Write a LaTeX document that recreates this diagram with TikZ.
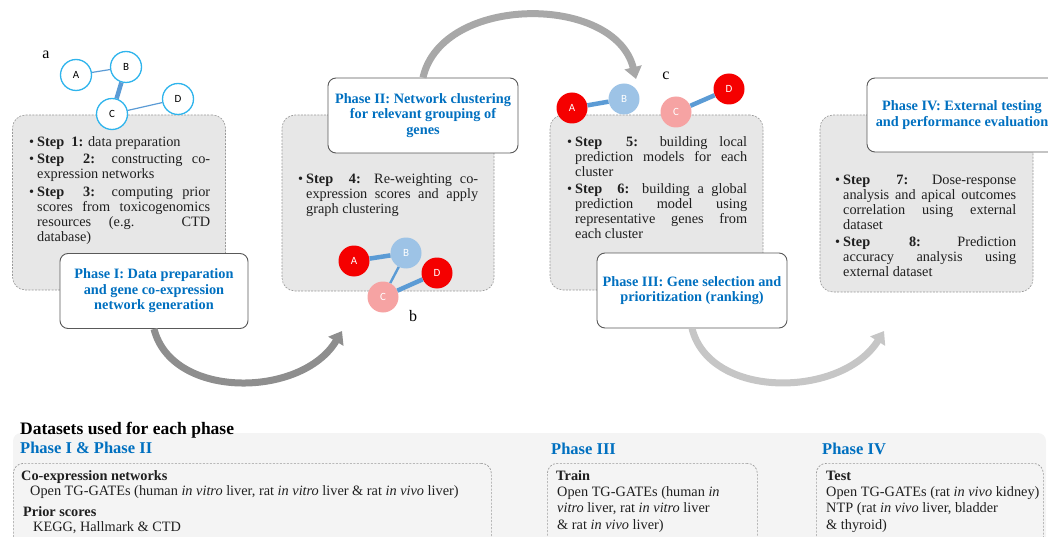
\documentclass[tikz,border=0pt]{standalone}
\usepackage{fontspec}
\setmainfont{Liberation Serif}
\newfontfamily\nodefont{Carlito}
\usetikzlibrary{arrows.meta,calc}
\definecolor{phaseblue}{HTML}{0070C0}
\definecolor{boxgray}{HTML}{E7E7E7}
\definecolor{dashgray}{HTML}{9A9A9A}
\definecolor{borderdark}{HTML}{595959}
\definecolor{cyanring}{HTML}{2FB4EC}
\definecolor{edgeblue}{HTML}{5B9BD5}
\definecolor{nodered}{HTML}{F50000}
\definecolor{nodeblue}{HTML}{9DC3E6}
\definecolor{nodepink}{HTML}{F6A3A3}
\definecolor{arrowdark}{HTML}{8E8E8E}
\definecolor{arrowmid}{HTML}{A8A8A8}
\definecolor{arrowlight}{HTML}{C6C6C6}
\definecolor{bottombg}{HTML}{F4F4F4}
\newcommand\stp[2]{\par\noindent\hangindent=8pt\hangafter=1\hbox to 8pt{\textbullet\hfil}\strut\textbf{Step\ \ #1:} #2\par}
\newcommand\isep{\vspace{2.5pt}}
\begin{document}
\begin{tikzpicture}[x=1pt,y=-1pt,
  graybox/.style={draw=dashgray, dash pattern=on 2pt off 1.3pt, line width=0.6pt, fill=boxgray, rounded corners=13pt, inner sep=0pt},
  titlebox/.style={draw=borderdark, fill=white, line width=0.9pt, rounded corners=8pt, minimum width=188pt, minimum height=75pt, inner sep=2pt, align=center, text=phaseblue, font={\fontsize{14.3}{15.5}\selectfont\bfseries}},
  steps/.style={anchor=north west, inner sep=0pt, align=justify, text=black!88, font={\fontsize{14.3}{15}\selectfont\tolerance=9999\hyphenpenalty=10000}},
  netbase/.style={circle, minimum size=31pt, inner sep=0pt, font={\nodefont\fontsize{11}{13}\selectfont}},
  netA/.style={netbase, draw=cyanring, line width=1.3pt, fill=white},
  netR/.style={netbase, fill=nodered, text=white},
  netB/.style={netbase, fill=nodeblue, text=white},
  netC/.style={netbase, fill=nodepink, text=white},
  edgethin/.style={draw=edgeblue, line width=1.2pt},
  edgemid/.style={draw=edgeblue, line width=2.4pt},
  edgethick/.style={draw=edgeblue, line width=4.5pt},
  flow/.style={line width=7pt, -{Triangle[length=12pt,width=17pt]}},
  lbl/.style={anchor=base west, inner sep=0pt, text=black!88, font={\fontsize{14.3}{15}\selectfont}},
  lblb/.style={lbl, font={\fontsize{14.3}{15}\selectfont\bfseries}},
  head/.style={anchor=base west, inner sep=0pt, text=phaseblue, font={\fontsize{16.5}{18}\selectfont\bfseries}},
  letter/.style={inner sep=0pt, font={\fontsize{16}{18}\selectfont}},
  dsbox/.style={draw=dashgray, dash pattern=on 2pt off 1.5pt, line width=0.7pt, rounded corners=10pt, anchor=north west, inner sep=0pt}
]
\useasboundingbox (0,0) rectangle (1048,537);

% gray step boxes
\node[graybox, minimum width=213pt, minimum height=175pt] (g1) at (119,202.5) {};
\node[graybox, minimum width=212pt, minimum height=176pt] (g2) at (388,203) {};
\node[graybox, minimum width=213pt, minimum height=175pt] (g3) at (656.5,202.5) {};
\node[graybox, minimum width=213pt, minimum height=177pt] (g4) at (926.5,203.5) {};

% step texts
\node[steps, text width=181pt] (s1) at (29,131.2) {%
\stp{1}{data preparation}\isep
\stp{2}{constructing co-\linebreak expression networks}\isep
\stp{3}{computing prior\linebreak scores from toxicogenomics\linebreak resources (e.g. CTD\linebreak database)}};
\node[steps, text width=180pt] (s2) at (298,168.2) {%
\stp{4}{Re-weighting co-\linebreak expression scores and apply\linebreak graph clustering}};
\node[steps, text width=180pt] (s3) at (567,131.2) {%
\stp{5}{building local\linebreak prediction models for each\linebreak cluster}\isep
\stp{6}{building a global\linebreak prediction model using\linebreak representative genes from\linebreak each cluster}};
\node[steps, text width=181pt] (s4) at (835,169.2) {%
\stp{7}{Dose-response\linebreak analysis and apical outcomes\linebreak correlation using external\linebreak dataset}\isep
\stp{8}{Prediction\linebreak accuracy analysis using\linebreak external dataset}};

% network a
\node[letter] (la) at (46,55) {a};
\node[netA] (aA) at (76,75) {A};
\node[netA] (aB) at (126,67) {B};
\node[netA] (aC) at (112,114) {C};
\node[netA] (aD) at (178,99) {D};
\draw[edgethin] (aA) -- (aB);
\draw[edgethick] (aB) -- (aC);
\draw[edgethin] (aC) -- (aD);

% network b
\node[netR] (bA) at (354,261) {A};
\node[netB] (bB) at (406,253) {B};
\node[netR] (bD) at (437,273) {D};
\node[netC] (bC) at (383,297) {C};
\draw[edgethick] (bA) -- (bB);
\draw[edgemid] (bB) -- (bC);
\draw[edgethick] (bC) -- (bD);
\node[letter] (lb) at (413,316) {b};

% network c
\node[letter] (lc) at (666,76) {c};
\node[netR] (cA) at (572,108) {A};
\node[netB] (cB) at (624,99) {B};
\node[netC] (cC) at (676,112) {C};
\node[netR] (cD) at (729,89) {D};
\draw[edgethick] (cA) -- (cB);
\draw[edgethick] (cC) -- (cD);

% title boxes
\node[titlebox] (t1) at (154,291) {Phase I: Data preparation\\and gene co-expression\\network generation};
\node[titlebox, minimum width=190pt] (t2) at (423,115.5) {Phase II: Network clustering\\for relevant grouping of\\genes};
\node[titlebox, minimum width=190pt] (t3) at (692,290.5) {Phase III: Gene selection and\\prioritization (ranking)};
\node[titlebox, minimum width=190pt, minimum height=74pt] (t4) at (962,115) {Phase IV: External testing\\and performance evaluation};

% flow arrows
\coordinate (tip1) at (342,331);
\coordinate (tip3) at (636,79);
\coordinate (tip2) at (884,331);
\draw[flow, draw=arrowdark] (t1.south) .. controls (172,400) and (302,398) .. (tip1);
\draw[flow, draw=arrowmid] (t2.north) .. controls (442,-6) and (615,-6) .. (tip3);
\draw[flow, draw=arrowlight] (t3.south) .. controls (710,400) and (842,398) .. (tip2);

% datasets section
\fill[bottombg, rounded corners=8pt] (13,433) rectangle (1046,560);
\node[anchor=base west, inner sep=0pt, font={\fontsize{17.5}{20}\selectfont\bfseries}] (dtitle) at (20,434.5) {Datasets used for each phase};
\node[head] (h12) at (20,453.5) {Phase I \& Phase II};
\node[head] (h3) at (551,454) {Phase III};
\node[head] (h4) at (822,454) {Phase IV};

\node[dsbox, minimum width=478pt, minimum height=95pt] (d12) at (13,463) {};
\node[dsbox, minimum width=210pt, minimum height=95pt] (d3) at (547,463) {};
\node[dsbox, minimum width=227pt, minimum height=95pt] (d4) at (816,463) {};

\node[lblb] (co) at (21,480.5) {Co-expression networks};
\node[lbl] (co1) at (30,495.5) {Open TG-GATEs (human \textit{in vitro} liver, rat \textit{in vitro} liver \& rat \textit{in vivo} liver)};
\node[lblb] (pr) at (23,516) {Prior scores};
\node[lbl] (pr1) at (33,531.5) {KEGG, Hallmark \& CTD};

\node[lblb] (tr) at (556,480.5) {Train};
\node[lbl] (tr1) at (557,496) {Open TG-GATEs (human \textit{in}};
\node[lbl] (tr2) at (557,512.5) {\textit{vitro} liver, rat \textit{in vitro} liver};
\node[lbl] (tr3) at (557,529) {\& rat \textit{in vivo} liver)};

\node[lblb] (te) at (826,480.5) {Test};
\node[lbl] (te1) at (826,496) {Open TG-GATEs (rat \textit{in vivo} kidney)};
\node[lbl] (te2) at (826,512.5) {NTP (rat \textit{in vivo} liver, bladder};
\node[lbl] (te3) at (826,529) {\& thyroid)};
\end{tikzpicture}
\end{document}
